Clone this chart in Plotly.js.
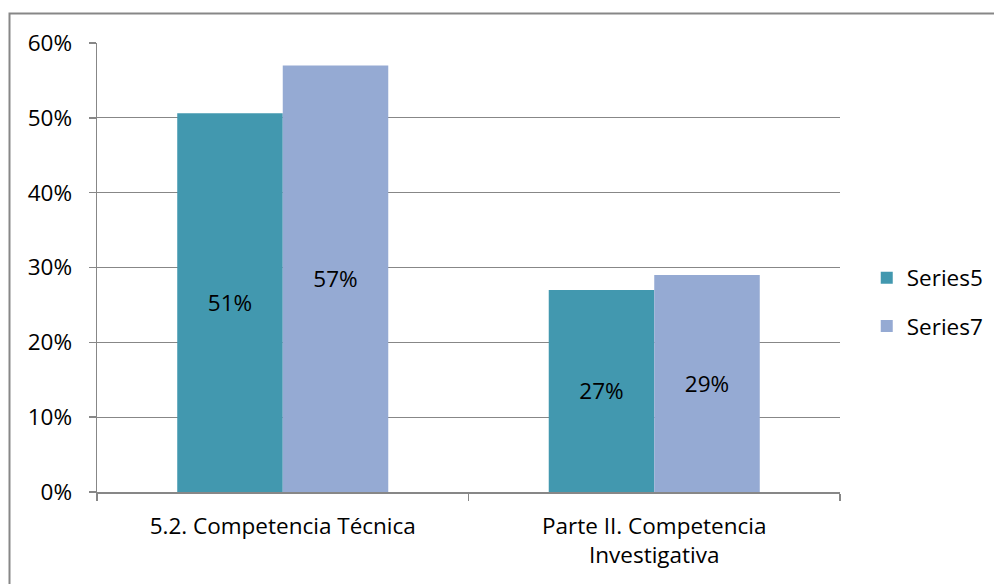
<!DOCTYPE html>
<html>
<head>
<meta charset="utf-8">
<script src="https://cdn.plot.ly/plotly-3.0.1.min.js"></script>
<style>html,body{margin:0;padding:0;background:#fff;}#chart{width:994px;height:584px;}</style>
</head>
<body>
<div id="chart"></div>
<script>
const categories = ["5.2. Competencia Técnica", "Parte II. Competencia<br>Investigativa"];
const series5 = [0.506, 0.27];
const series7 = [0.57, 0.29];
const seriesNames = ["Series5", "Series7"];
const yTickVals = [0, 0.1, 0.2, 0.3, 0.4, 0.5, 0.6];

const FONT = "Open Sans, Liberation Sans, sans-serif";
const GRAY = "#878787";
const FS = 22.5;

const traces = [
  {type: "bar", x: categories, y: series5, name: seriesNames[0], legendgroup: "a",
   marker: {color: "#4298AF"}, texttemplate: "%{y:.0%}", textposition: "inside",
   insidetextanchor: "middle", textangle: 0,
   textfont: {family: FONT, size: FS, color: "#000"}, hoverinfo: "skip"},
  {type: "bar", x: categories, y: series7, name: seriesNames[1], legendgroup: "b",
   marker: {color: "#95AAD3"}, texttemplate: "%{y:.0%}", textposition: "inside",
   insidetextanchor: "middle", textangle: 0,
   textfont: {family: FONT, size: FS, color: "#000"}, hoverinfo: "skip"}
];

const layout = {
  width: 994, height: 584,
  margin: {l: 97, r: 154, t: 43, b: 92, autoexpand: false},
  paper_bgcolor: "#fff", plot_bgcolor: "#fff",
  font: {family: FONT, size: FS, color: "#000"},
  barmode: "group", bargap: 0.432, bargroupgap: 0,
  xaxis: {
    type: "category", showline: true, linecolor: GRAY, linewidth: 1.5,
    ticks: "outside", tickson: "boundaries", ticklen: 7, tickcolor: GRAY, tickwidth: 1.5,
    showgrid: false, tickfont: {family: FONT, size: FS, color: "#000"},
    ticklabelstandoff: 13, automargin: false
  },
  yaxis: {
    range: [0, 0.6], tickvals: yTickVals, tickformat: ".0%",
    showline: true, linecolor: GRAY, linewidth: 1.5,
    ticks: "outside", ticklen: 7, tickcolor: GRAY, tickwidth: 1.5,
    showgrid: true, gridcolor: GRAY, gridwidth: 1.3, zeroline: false,
    tickfont: {family: FONT, size: FS, color: "#000"},
    ticklabelstandoff: 12, automargin: false
  },
  showlegend: true,
  legend: {
    x: 1.036, xanchor: "left", y: 0.423, yanchor: "middle",
    traceorder: "grouped", tracegroupgap: 16,
    font: {family: FONT, size: FS, color: "#000"},
    bgcolor: "rgba(0,0,0,0)", itemwidth: 30
  },
  shapes: [{
    type: "rect", xref: "paper", yref: "paper",
    x0: (9.5 - 97) / 743, x1: 1.4, y0: -0.4, y1: (492 - 13.5) / 449,
    line: {color: GRAY, width: 2}, fillcolor: "rgba(0,0,0,0)", layer: "below"
  }]
};

Plotly.newPlot("chart", traces, layout, {displayModeBar: false, staticPlot: true});
</script>
</body>
</html>
